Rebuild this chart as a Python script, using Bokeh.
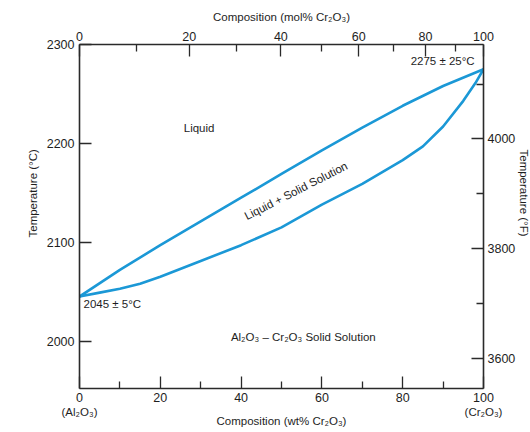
import math
from bokeh.plotting import figure
from bokeh.models import LinearAxis, Range1d, FixedTicker, Label, Title
from bokeh.embed import file_html
from bokeh.resources import INLINE

# ---- data ----
liquidus_wt = [0, 10, 20, 30, 40, 50, 60, 70, 80, 90, 100]
liquidus_T = [2045, 2072, 2097, 2121, 2145, 2169, 2193, 2216, 2238, 2258, 2275]
solidus_wt = [0, 5, 10, 15, 20, 30, 40, 50, 60, 70, 80, 85, 90, 95, 98, 100]
solidus_T = [2045, 2049, 2053, 2058, 2065, 2081, 2097, 2115, 2138, 2159, 2183, 2197, 2217, 2243, 2261, 2275]

wt_ticks = [0, 20, 40, 60, 80, 100]
wt_minor = [10, 30, 50, 70, 90]
end_members = {0: "(Al₂O₃)", 100: "(Cr₂O₃)"}
mol_ticks = [0, 20, 40, 60, 80, 100]
mol_minor = [10, 30, 50, 70, 90]
c_ticks = [2000, 2100, 2200, 2300]
f_ticks = [3600, 3800, 4000]
f_minor = [3700, 3900, 4100]
T_MIN, T_MAX = 1952, 2300

M_CR2O3 = 151.99
M_AL2O3 = 101.96


def mol_to_wt(m):
    return round(100.0 * m * M_CR2O3 / (m * M_CR2O3 + (100 - m) * M_AL2O3), 4)


def c_to_f(c):
    return c * 9.0 / 5.0 + 32.0


FONT = "Liberation Sans"
TXT = "#1e1e1e"
AX = "#2a2a2a"
BLUE = "#1b98d6"
TICK_FS = "12.5px"
ANN_FS = "11.5px"

p = figure(width=530, height=432, x_range=Range1d(0, 100), y_range=Range1d(T_MIN, T_MAX),
           output_backend="svg", toolbar_location=None, title_location=None,
           min_border_left=79, min_border_right=46, min_border_top=44, min_border_bottom=44)
p.outline_line_color = None
p.xgrid.visible = False
p.ygrid.visible = False
p.background_fill_color = "white"
p.border_fill_color = "white"

p.extra_y_ranges = {"F": Range1d(c_to_f(T_MIN), c_to_f(T_MAX))}


def style(ax, standoff):
    ax.axis_line_color = AX
    ax.axis_line_width = 1.6
    ax.major_tick_line_color = AX
    ax.minor_tick_line_color = AX
    ax.major_tick_line_width = 1.3
    ax.minor_tick_line_width = 1.3
    ax.major_tick_in = 12
    ax.major_tick_out = 0
    ax.minor_tick_in = 7
    ax.minor_tick_out = 0
    ax.major_label_text_font = FONT
    ax.major_label_text_font_size = TICK_FS
    ax.major_label_text_color = TXT
    ax.major_label_standoff = standoff
    ax.axis_label_text_font = FONT
    ax.axis_label_text_font_size = ANN_FS
    ax.axis_label_text_font_style = "normal"
    ax.axis_label_text_color = TXT


def side_title(text, side, offset, standoff):
    p.add_layout(Title(text=text, align="left", offset=offset, standoff=standoff,
                       text_font=FONT, text_font_size=ANN_FS, text_font_style="normal",
                       text_color=TXT), side)


# bottom (wt%)
bx = p.xaxis[0]
bx.ticker = FixedTicker(ticks=wt_ticks, minor_ticks=wt_minor)
style(bx, 4)

# end-member names + bottom title (second, tick-less axis below)
bx2 = LinearAxis(ticker=FixedTicker(ticks=list(end_members.keys()), minor_ticks=[]),
                 major_label_overrides=end_members)
style(bx2, 1)
bx2.axis_line_color = None
bx2.major_tick_in = 0
bx2.minor_tick_in = 0
bx2.major_label_text_font_size = ANN_FS
bx2.axis_label = "Composition (wt% Cr₂O₃)"
bx2.axis_label_standoff = -6
p.add_layout(bx2, "below")

# left (deg C)
ly = p.yaxis[0]
ly.ticker = FixedTicker(ticks=c_ticks, minor_ticks=[])
style(ly, 5)
side_title("Temperature (°C)", "left", 151, 10)

# top (mol%)
top_pos = [mol_to_wt(m) for m in mol_ticks]
top_minor = [mol_to_wt(m) for m in mol_minor]
tx = LinearAxis(ticker=FixedTicker(ticks=top_pos, minor_ticks=top_minor),
                major_label_overrides={pos: str(m) for pos, m in zip(top_pos, mol_ticks)})
style(tx, 4)
tx.axis_label = "Composition (mol% Cr₂O₃)"
tx.axis_label_standoff = 6
p.add_layout(tx, "above")

# right (deg F)
ry = LinearAxis(y_range_name="F", ticker=FixedTicker(ticks=f_ticks, minor_ticks=f_minor))
style(ry, 4)
p.add_layout(ry, "right")
side_title("Temperature (°F)", "right", 105, -2)

# curves
p.line(liquidus_wt, liquidus_T, line_color=BLUE, line_width=2.6)
p.line(solidus_wt, solidus_T, line_color=BLUE, line_width=2.6)


def lab(x, y, text, align="center", angle=0.0):
    p.add_layout(Label(x=x, y=y, text=text, text_font=FONT, text_font_size=ANN_FS,
                       text_color=TXT, text_align=align, text_baseline="middle",
                       angle=angle))


# region / point annotations
lab(29.6, 2216, "Liquid")
lab(53.6, 2152, "Liquid + Solid Solution", angle=math.radians(27))
lab(97.8, 2283, "2275 ± 25°C", align="right")
lab(1.0, 2037, "2045 ± 5°C", align="left")
lab(55.4, 2004, "Al₂O₃ – Cr₂O₃ Solid Solution")

open("out.html", "w").write(file_html(p, INLINE))
